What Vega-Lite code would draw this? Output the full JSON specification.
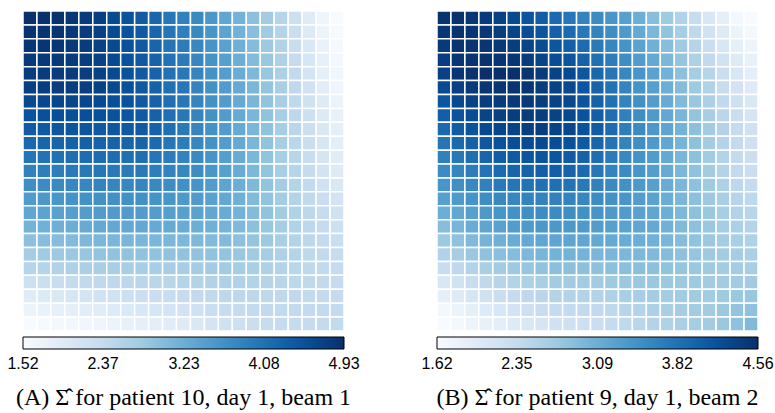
{
"$schema": "https://vega.github.io/schema/vega-lite/v6.json",
"background": "white",
"padding": {"left": 15, "top": 10, "right": 2, "bottom": 0},
"spacing": 76,
"datasets": {
"A": [
{"r":0,"c":0,"v":4.93},{"r":0,"c":1,"v":4.91},{"r":0,"c":2,"v":4.90},{"r":0,"c":3,"v":4.85},{"r":0,"c":4,"v":4.79},{"r":0,"c":5,"v":4.73},{"r":0,"c":6,"v":4.59},{"r":0,"c":7,"v":4.48},{"r":0,"c":8,"v":4.37},{"r":0,"c":9,"v":4.22},{"r":0,"c":10,"v":4.01},{"r":0,"c":11,"v":3.87},{"r":0,"c":12,"v":3.75},{"r":0,"c":13,"v":3.57},{"r":0,"c":14,"v":3.35},{"r":0,"c":15,"v":3.15},{"r":0,"c":16,"v":2.95},{"r":0,"c":17,"v":2.75},{"r":0,"c":18,"v":2.53},{"r":0,"c":19,"v":2.25},{"r":0,"c":20,"v":1.93},{"r":0,"c":21,"v":1.67},{"r":0,"c":22,"v":1.52},
{"r":1,"c":0,"v":4.89},{"r":1,"c":1,"v":4.88},{"r":1,"c":2,"v":4.87},{"r":1,"c":3,"v":4.83},{"r":1,"c":4,"v":4.78},{"r":1,"c":5,"v":4.72},{"r":1,"c":6,"v":4.59},{"r":1,"c":7,"v":4.49},{"r":1,"c":8,"v":4.38},{"r":1,"c":9,"v":4.23},{"r":1,"c":10,"v":4.03},{"r":1,"c":11,"v":3.90},{"r":1,"c":12,"v":3.77},{"r":1,"c":13,"v":3.59},{"r":1,"c":14,"v":3.38},{"r":1,"c":15,"v":3.18},{"r":1,"c":16,"v":2.98},{"r":1,"c":17,"v":2.78},{"r":1,"c":18,"v":2.56},{"r":1,"c":19,"v":2.29},{"r":1,"c":20,"v":1.98},{"r":1,"c":21,"v":1.72},{"r":1,"c":22,"v":1.55},
{"r":2,"c":0,"v":4.85},{"r":2,"c":1,"v":4.85},{"r":2,"c":2,"v":4.84},{"r":2,"c":3,"v":4.81},{"r":2,"c":4,"v":4.77},{"r":2,"c":5,"v":4.71},{"r":2,"c":6,"v":4.59},{"r":2,"c":7,"v":4.50},{"r":2,"c":8,"v":4.38},{"r":2,"c":9,"v":4.24},{"r":2,"c":10,"v":4.04},{"r":2,"c":11,"v":3.93},{"r":2,"c":12,"v":3.79},{"r":2,"c":13,"v":3.60},{"r":2,"c":14,"v":3.41},{"r":2,"c":15,"v":3.20},{"r":2,"c":16,"v":3.01},{"r":2,"c":17,"v":2.80},{"r":2,"c":18,"v":2.59},{"r":2,"c":19,"v":2.33},{"r":2,"c":20,"v":2.03},{"r":2,"c":21,"v":1.76},{"r":2,"c":22,"v":1.58},
{"r":3,"c":0,"v":4.81},{"r":3,"c":1,"v":4.81},{"r":3,"c":2,"v":4.82},{"r":3,"c":3,"v":4.79},{"r":3,"c":4,"v":4.75},{"r":3,"c":5,"v":4.71},{"r":3,"c":6,"v":4.59},{"r":3,"c":7,"v":4.50},{"r":3,"c":8,"v":4.39},{"r":3,"c":9,"v":4.26},{"r":3,"c":10,"v":4.06},{"r":3,"c":11,"v":3.95},{"r":3,"c":12,"v":3.80},{"r":3,"c":13,"v":3.62},{"r":3,"c":14,"v":3.44},{"r":3,"c":15,"v":3.23},{"r":3,"c":16,"v":3.03},{"r":3,"c":17,"v":2.83},{"r":3,"c":18,"v":2.62},{"r":3,"c":19,"v":2.36},{"r":3,"c":20,"v":2.07},{"r":3,"c":21,"v":1.81},{"r":3,"c":22,"v":1.61},
{"r":4,"c":0,"v":4.77},{"r":4,"c":1,"v":4.78},{"r":4,"c":2,"v":4.79},{"r":4,"c":3,"v":4.77},{"r":4,"c":4,"v":4.74},{"r":4,"c":5,"v":4.70},{"r":4,"c":6,"v":4.59},{"r":4,"c":7,"v":4.51},{"r":4,"c":8,"v":4.39},{"r":4,"c":9,"v":4.27},{"r":4,"c":10,"v":4.07},{"r":4,"c":11,"v":3.98},{"r":4,"c":12,"v":3.82},{"r":4,"c":13,"v":3.63},{"r":4,"c":14,"v":3.47},{"r":4,"c":15,"v":3.25},{"r":4,"c":16,"v":3.06},{"r":4,"c":17,"v":2.85},{"r":4,"c":18,"v":2.65},{"r":4,"c":19,"v":2.40},{"r":4,"c":20,"v":2.12},{"r":4,"c":21,"v":1.85},{"r":4,"c":22,"v":1.64},
{"r":5,"c":0,"v":4.73},{"r":5,"c":1,"v":4.75},{"r":5,"c":2,"v":4.76},{"r":5,"c":3,"v":4.75},{"r":5,"c":4,"v":4.73},{"r":5,"c":5,"v":4.69},{"r":5,"c":6,"v":4.59},{"r":5,"c":7,"v":4.52},{"r":5,"c":8,"v":4.40},{"r":5,"c":9,"v":4.28},{"r":5,"c":10,"v":4.09},{"r":5,"c":11,"v":4.01},{"r":5,"c":12,"v":3.84},{"r":5,"c":13,"v":3.65},{"r":5,"c":14,"v":3.50},{"r":5,"c":15,"v":3.28},{"r":5,"c":16,"v":3.09},{"r":5,"c":17,"v":2.88},{"r":5,"c":18,"v":2.68},{"r":5,"c":19,"v":2.44},{"r":5,"c":20,"v":2.17},{"r":5,"c":21,"v":1.90},{"r":5,"c":22,"v":1.67},
{"r":6,"c":0,"v":4.61},{"r":6,"c":1,"v":4.63},{"r":6,"c":2,"v":4.65},{"r":6,"c":3,"v":4.65},{"r":6,"c":4,"v":4.63},{"r":6,"c":5,"v":4.59},{"r":6,"c":6,"v":4.53},{"r":6,"c":7,"v":4.48},{"r":6,"c":8,"v":4.39},{"r":6,"c":9,"v":4.28},{"r":6,"c":10,"v":4.10},{"r":6,"c":11,"v":4.00},{"r":6,"c":12,"v":3.83},{"r":6,"c":13,"v":3.65},{"r":6,"c":14,"v":3.50},{"r":6,"c":15,"v":3.28},{"r":6,"c":16,"v":3.10},{"r":6,"c":17,"v":2.89},{"r":6,"c":18,"v":2.69},{"r":6,"c":19,"v":2.46},{"r":6,"c":20,"v":2.20},{"r":6,"c":21,"v":1.94},{"r":6,"c":22,"v":1.72},
{"r":7,"c":0,"v":4.49},{"r":7,"c":1,"v":4.52},{"r":7,"c":2,"v":4.53},{"r":7,"c":3,"v":4.54},{"r":7,"c":4,"v":4.54},{"r":7,"c":5,"v":4.50},{"r":7,"c":6,"v":4.48},{"r":7,"c":7,"v":4.44},{"r":7,"c":8,"v":4.39},{"r":7,"c":9,"v":4.28},{"r":7,"c":10,"v":4.10},{"r":7,"c":11,"v":3.99},{"r":7,"c":12,"v":3.83},{"r":7,"c":13,"v":3.65},{"r":7,"c":14,"v":3.50},{"r":7,"c":15,"v":3.29},{"r":7,"c":16,"v":3.10},{"r":7,"c":17,"v":2.91},{"r":7,"c":18,"v":2.70},{"r":7,"c":19,"v":2.47},{"r":7,"c":20,"v":2.24},{"r":7,"c":21,"v":1.99},{"r":7,"c":22,"v":1.78},
{"r":8,"c":0,"v":4.37},{"r":8,"c":1,"v":4.40},{"r":8,"c":2,"v":4.42},{"r":8,"c":3,"v":4.44},{"r":8,"c":4,"v":4.44},{"r":8,"c":5,"v":4.40},{"r":8,"c":6,"v":4.42},{"r":8,"c":7,"v":4.40},{"r":8,"c":8,"v":4.38},{"r":8,"c":9,"v":4.28},{"r":8,"c":10,"v":4.11},{"r":8,"c":11,"v":3.98},{"r":8,"c":12,"v":3.82},{"r":8,"c":13,"v":3.65},{"r":8,"c":14,"v":3.50},{"r":8,"c":15,"v":3.29},{"r":8,"c":16,"v":3.11},{"r":8,"c":17,"v":2.92},{"r":8,"c":18,"v":2.71},{"r":8,"c":19,"v":2.49},{"r":8,"c":20,"v":2.27},{"r":8,"c":21,"v":2.03},{"r":8,"c":22,"v":1.83},
{"r":9,"c":0,"v":4.20},{"r":9,"c":1,"v":4.24},{"r":9,"c":2,"v":4.25},{"r":9,"c":3,"v":4.28},{"r":9,"c":4,"v":4.29},{"r":9,"c":5,"v":4.27},{"r":9,"c":6,"v":4.27},{"r":9,"c":7,"v":4.25},{"r":9,"c":8,"v":4.25},{"r":9,"c":9,"v":4.16},{"r":9,"c":10,"v":4.02},{"r":9,"c":11,"v":3.92},{"r":9,"c":12,"v":3.79},{"r":9,"c":13,"v":3.63},{"r":9,"c":14,"v":3.48},{"r":9,"c":15,"v":3.28},{"r":9,"c":16,"v":3.10},{"r":9,"c":17,"v":2.91},{"r":9,"c":18,"v":2.71},{"r":9,"c":19,"v":2.50},{"r":9,"c":20,"v":2.30},{"r":9,"c":21,"v":2.07},{"r":9,"c":22,"v":1.87},
{"r":10,"c":0,"v":4.04},{"r":10,"c":1,"v":4.07},{"r":10,"c":2,"v":4.09},{"r":10,"c":3,"v":4.12},{"r":10,"c":4,"v":4.13},{"r":10,"c":5,"v":4.14},{"r":10,"c":6,"v":4.13},{"r":10,"c":7,"v":4.11},{"r":10,"c":8,"v":4.11},{"r":10,"c":9,"v":4.03},{"r":10,"c":10,"v":3.93},{"r":10,"c":11,"v":3.85},{"r":10,"c":12,"v":3.75},{"r":10,"c":13,"v":3.60},{"r":10,"c":14,"v":3.45},{"r":10,"c":15,"v":3.27},{"r":10,"c":16,"v":3.09},{"r":10,"c":17,"v":2.89},{"r":10,"c":18,"v":2.71},{"r":10,"c":19,"v":2.52},{"r":10,"c":20,"v":2.33},{"r":10,"c":21,"v":2.11},{"r":10,"c":22,"v":1.91},
{"r":11,"c":0,"v":3.87},{"r":11,"c":1,"v":3.91},{"r":11,"c":2,"v":3.92},{"r":11,"c":3,"v":3.96},{"r":11,"c":4,"v":3.98},{"r":11,"c":5,"v":4.01},{"r":11,"c":6,"v":3.98},{"r":11,"c":7,"v":3.96},{"r":11,"c":8,"v":3.98},{"r":11,"c":9,"v":3.91},{"r":11,"c":10,"v":3.84},{"r":11,"c":11,"v":3.79},{"r":11,"c":12,"v":3.72},{"r":11,"c":13,"v":3.58},{"r":11,"c":14,"v":3.43},{"r":11,"c":15,"v":3.26},{"r":11,"c":16,"v":3.08},{"r":11,"c":17,"v":2.88},{"r":11,"c":18,"v":2.71},{"r":11,"c":19,"v":2.53},{"r":11,"c":20,"v":2.36},{"r":11,"c":21,"v":2.15},{"r":11,"c":22,"v":1.95},
{"r":12,"c":0,"v":3.70},{"r":12,"c":1,"v":3.73},{"r":12,"c":2,"v":3.75},{"r":12,"c":3,"v":3.79},{"r":12,"c":4,"v":3.81},{"r":12,"c":5,"v":3.84},{"r":12,"c":6,"v":3.82},{"r":12,"c":7,"v":3.81},{"r":12,"c":8,"v":3.82},{"r":12,"c":9,"v":3.77},{"r":12,"c":10,"v":3.71},{"r":12,"c":11,"v":3.67},{"r":12,"c":12,"v":3.61},{"r":12,"c":13,"v":3.50},{"r":12,"c":14,"v":3.37},{"r":12,"c":15,"v":3.22},{"r":12,"c":16,"v":3.06},{"r":12,"c":17,"v":2.89},{"r":12,"c":18,"v":2.73},{"r":12,"c":19,"v":2.56},{"r":12,"c":20,"v":2.40},{"r":12,"c":21,"v":2.21},{"r":12,"c":22,"v":2.03},
{"r":13,"c":0,"v":3.52},{"r":13,"c":1,"v":3.56},{"r":13,"c":2,"v":3.58},{"r":13,"c":3,"v":3.62},{"r":13,"c":4,"v":3.65},{"r":13,"c":5,"v":3.67},{"r":13,"c":6,"v":3.67},{"r":13,"c":7,"v":3.66},{"r":13,"c":8,"v":3.66},{"r":13,"c":9,"v":3.62},{"r":13,"c":10,"v":3.59},{"r":13,"c":11,"v":3.55},{"r":13,"c":12,"v":3.51},{"r":13,"c":13,"v":3.41},{"r":13,"c":14,"v":3.32},{"r":13,"c":15,"v":3.19},{"r":13,"c":16,"v":3.04},{"r":13,"c":17,"v":2.89},{"r":13,"c":18,"v":2.74},{"r":13,"c":19,"v":2.58},{"r":13,"c":20,"v":2.43},{"r":13,"c":21,"v":2.28},{"r":13,"c":22,"v":2.12},
{"r":14,"c":0,"v":3.35},{"r":14,"c":1,"v":3.38},{"r":14,"c":2,"v":3.41},{"r":14,"c":3,"v":3.45},{"r":14,"c":4,"v":3.48},{"r":14,"c":5,"v":3.50},{"r":14,"c":6,"v":3.51},{"r":14,"c":7,"v":3.51},{"r":14,"c":8,"v":3.50},{"r":14,"c":9,"v":3.48},{"r":14,"c":10,"v":3.46},{"r":14,"c":11,"v":3.43},{"r":14,"c":12,"v":3.40},{"r":14,"c":13,"v":3.33},{"r":14,"c":14,"v":3.26},{"r":14,"c":15,"v":3.15},{"r":14,"c":16,"v":3.02},{"r":14,"c":17,"v":2.90},{"r":14,"c":18,"v":2.76},{"r":14,"c":19,"v":2.61},{"r":14,"c":20,"v":2.47},{"r":14,"c":21,"v":2.34},{"r":14,"c":22,"v":2.20},
{"r":15,"c":0,"v":3.15},{"r":15,"c":1,"v":3.18},{"r":15,"c":2,"v":3.21},{"r":15,"c":3,"v":3.24},{"r":15,"c":4,"v":3.27},{"r":15,"c":5,"v":3.30},{"r":15,"c":6,"v":3.31},{"r":15,"c":7,"v":3.31},{"r":15,"c":8,"v":3.31},{"r":15,"c":9,"v":3.29},{"r":15,"c":10,"v":3.28},{"r":15,"c":11,"v":3.26},{"r":15,"c":12,"v":3.23},{"r":15,"c":13,"v":3.19},{"r":15,"c":14,"v":3.14},{"r":15,"c":15,"v":3.05},{"r":15,"c":16,"v":2.95},{"r":15,"c":17,"v":2.85},{"r":15,"c":18,"v":2.72},{"r":15,"c":19,"v":2.60},{"r":15,"c":20,"v":2.47},{"r":15,"c":21,"v":2.37},{"r":15,"c":22,"v":2.25},
{"r":16,"c":0,"v":2.95},{"r":16,"c":1,"v":2.98},{"r":16,"c":2,"v":3.00},{"r":16,"c":3,"v":3.03},{"r":16,"c":4,"v":3.06},{"r":16,"c":5,"v":3.09},{"r":16,"c":6,"v":3.10},{"r":16,"c":7,"v":3.10},{"r":16,"c":8,"v":3.11},{"r":16,"c":9,"v":3.10},{"r":16,"c":10,"v":3.09},{"r":16,"c":11,"v":3.08},{"r":16,"c":12,"v":3.06},{"r":16,"c":13,"v":3.04},{"r":16,"c":14,"v":3.02},{"r":16,"c":15,"v":2.95},{"r":16,"c":16,"v":2.88},{"r":16,"c":17,"v":2.80},{"r":16,"c":18,"v":2.68},{"r":16,"c":19,"v":2.58},{"r":16,"c":20,"v":2.47},{"r":16,"c":21,"v":2.39},{"r":16,"c":22,"v":2.30},
{"r":17,"c":0,"v":2.74},{"r":17,"c":1,"v":2.77},{"r":17,"c":2,"v":2.80},{"r":17,"c":3,"v":2.83},{"r":17,"c":4,"v":2.86},{"r":17,"c":5,"v":2.89},{"r":17,"c":6,"v":2.90},{"r":17,"c":7,"v":2.90},{"r":17,"c":8,"v":2.91},{"r":17,"c":9,"v":2.91},{"r":17,"c":10,"v":2.90},{"r":17,"c":11,"v":2.90},{"r":17,"c":12,"v":2.90},{"r":17,"c":13,"v":2.90},{"r":17,"c":14,"v":2.89},{"r":17,"c":15,"v":2.84},{"r":17,"c":16,"v":2.78},{"r":17,"c":17,"v":2.72},{"r":17,"c":18,"v":2.63},{"r":17,"c":19,"v":2.55},{"r":17,"c":20,"v":2.46},{"r":17,"c":21,"v":2.40},{"r":17,"c":22,"v":2.34},
{"r":18,"c":0,"v":2.53},{"r":18,"c":1,"v":2.56},{"r":18,"c":2,"v":2.59},{"r":18,"c":3,"v":2.63},{"r":18,"c":4,"v":2.66},{"r":18,"c":5,"v":2.68},{"r":18,"c":6,"v":2.69},{"r":18,"c":7,"v":2.70},{"r":18,"c":8,"v":2.71},{"r":18,"c":9,"v":2.71},{"r":18,"c":10,"v":2.71},{"r":18,"c":11,"v":2.71},{"r":18,"c":12,"v":2.73},{"r":18,"c":13,"v":2.75},{"r":18,"c":14,"v":2.76},{"r":18,"c":15,"v":2.72},{"r":18,"c":16,"v":2.68},{"r":18,"c":17,"v":2.63},{"r":18,"c":18,"v":2.58},{"r":18,"c":19,"v":2.51},{"r":18,"c":20,"v":2.45},{"r":18,"c":21,"v":2.41},{"r":18,"c":22,"v":2.37},
{"r":19,"c":0,"v":2.23},{"r":19,"c":1,"v":2.27},{"r":19,"c":2,"v":2.31},{"r":19,"c":3,"v":2.36},{"r":19,"c":4,"v":2.40},{"r":19,"c":5,"v":2.43},{"r":19,"c":6,"v":2.45},{"r":19,"c":7,"v":2.47},{"r":19,"c":8,"v":2.49},{"r":19,"c":9,"v":2.51},{"r":19,"c":10,"v":2.52},{"r":19,"c":11,"v":2.54},{"r":19,"c":12,"v":2.57},{"r":19,"c":13,"v":2.59},{"r":19,"c":14,"v":2.62},{"r":19,"c":15,"v":2.60},{"r":19,"c":16,"v":2.58},{"r":19,"c":17,"v":2.55},{"r":19,"c":18,"v":2.52},{"r":19,"c":19,"v":2.47},{"r":19,"c":20,"v":2.43},{"r":19,"c":21,"v":2.40},{"r":19,"c":22,"v":2.37},
{"r":20,"c":0,"v":1.93},{"r":20,"c":1,"v":1.98},{"r":20,"c":2,"v":2.03},{"r":20,"c":3,"v":2.08},{"r":20,"c":4,"v":2.13},{"r":20,"c":5,"v":2.17},{"r":20,"c":6,"v":2.20},{"r":20,"c":7,"v":2.24},{"r":20,"c":8,"v":2.27},{"r":20,"c":9,"v":2.30},{"r":20,"c":10,"v":2.33},{"r":20,"c":11,"v":2.36},{"r":20,"c":12,"v":2.40},{"r":20,"c":13,"v":2.43},{"r":20,"c":14,"v":2.47},{"r":20,"c":15,"v":2.47},{"r":20,"c":16,"v":2.47},{"r":20,"c":17,"v":2.46},{"r":20,"c":18,"v":2.45},{"r":20,"c":19,"v":2.42},{"r":20,"c":20,"v":2.41},{"r":20,"c":21,"v":2.39},{"r":20,"c":22,"v":2.37},
{"r":21,"c":0,"v":1.73},{"r":21,"c":1,"v":1.77},{"r":21,"c":2,"v":1.81},{"r":21,"c":3,"v":1.85},{"r":21,"c":4,"v":1.89},{"r":21,"c":5,"v":1.92},{"r":21,"c":6,"v":1.96},{"r":21,"c":7,"v":2.01},{"r":21,"c":8,"v":2.05},{"r":21,"c":9,"v":2.08},{"r":21,"c":10,"v":2.12},{"r":21,"c":11,"v":2.16},{"r":21,"c":12,"v":2.22},{"r":21,"c":13,"v":2.28},{"r":21,"c":14,"v":2.34},{"r":21,"c":15,"v":2.36},{"r":21,"c":16,"v":2.39},{"r":21,"c":17,"v":2.40},{"r":21,"c":18,"v":2.41},{"r":21,"c":19,"v":2.40},{"r":21,"c":20,"v":2.39},{"r":21,"c":21,"v":2.39},{"r":21,"c":22,"v":2.39},
{"r":22,"c":0,"v":1.52},{"r":22,"c":1,"v":1.55},{"r":22,"c":2,"v":1.59},{"r":22,"c":3,"v":1.62},{"r":22,"c":4,"v":1.65},{"r":22,"c":5,"v":1.67},{"r":22,"c":6,"v":1.72},{"r":22,"c":7,"v":1.78},{"r":22,"c":8,"v":1.83},{"r":22,"c":9,"v":1.86},{"r":22,"c":10,"v":1.91},{"r":22,"c":11,"v":1.95},{"r":22,"c":12,"v":2.03},{"r":22,"c":13,"v":2.12},{"r":22,"c":14,"v":2.20},{"r":22,"c":15,"v":2.25},{"r":22,"c":16,"v":2.30},{"r":22,"c":17,"v":2.34},{"r":22,"c":18,"v":2.37},{"r":22,"c":19,"v":2.37},{"r":22,"c":20,"v":2.37},{"r":22,"c":21,"v":2.39},{"r":22,"c":22,"v":2.41}
],
"B": [
{"r":0,"c":0,"v":4.53},{"r":0,"c":1,"v":4.53},{"r":0,"c":2,"v":4.49},{"r":0,"c":3,"v":4.44},{"r":0,"c":4,"v":4.37},{"r":0,"c":5,"v":4.27},{"r":0,"c":6,"v":4.15},{"r":0,"c":7,"v":4.05},{"r":0,"c":8,"v":3.91},{"r":0,"c":9,"v":3.77},{"r":0,"c":10,"v":3.63},{"r":0,"c":11,"v":3.52},{"r":0,"c":12,"v":3.40},{"r":0,"c":13,"v":3.27},{"r":0,"c":14,"v":3.08},{"r":0,"c":15,"v":2.88},{"r":0,"c":16,"v":2.71},{"r":0,"c":17,"v":2.55},{"r":0,"c":18,"v":2.33},{"r":0,"c":19,"v":2.09},{"r":0,"c":20,"v":1.89},{"r":0,"c":21,"v":1.69},{"r":0,"c":22,"v":1.62},
{"r":1,"c":0,"v":4.49},{"r":1,"c":1,"v":4.52},{"r":1,"c":2,"v":4.50},{"r":1,"c":3,"v":4.47},{"r":1,"c":4,"v":4.42},{"r":1,"c":5,"v":4.34},{"r":1,"c":6,"v":4.24},{"r":1,"c":7,"v":4.15},{"r":1,"c":8,"v":4.02},{"r":1,"c":9,"v":3.90},{"r":1,"c":10,"v":3.75},{"r":1,"c":11,"v":3.63},{"r":1,"c":12,"v":3.50},{"r":1,"c":13,"v":3.35},{"r":1,"c":14,"v":3.16},{"r":1,"c":15,"v":2.97},{"r":1,"c":16,"v":2.80},{"r":1,"c":17,"v":2.63},{"r":1,"c":18,"v":2.41},{"r":1,"c":19,"v":2.19},{"r":1,"c":20,"v":1.99},{"r":1,"c":21,"v":1.79},{"r":1,"c":22,"v":1.69},
{"r":2,"c":0,"v":4.45},{"r":2,"c":1,"v":4.51},{"r":2,"c":2,"v":4.51},{"r":2,"c":3,"v":4.50},{"r":2,"c":4,"v":4.47},{"r":2,"c":5,"v":4.42},{"r":2,"c":6,"v":4.34},{"r":2,"c":7,"v":4.25},{"r":2,"c":8,"v":4.13},{"r":2,"c":9,"v":4.02},{"r":2,"c":10,"v":3.88},{"r":2,"c":11,"v":3.73},{"r":2,"c":12,"v":3.59},{"r":2,"c":13,"v":3.43},{"r":2,"c":14,"v":3.24},{"r":2,"c":15,"v":3.06},{"r":2,"c":16,"v":2.88},{"r":2,"c":17,"v":2.70},{"r":2,"c":18,"v":2.50},{"r":2,"c":19,"v":2.29},{"r":2,"c":20,"v":2.09},{"r":2,"c":21,"v":1.89},{"r":2,"c":22,"v":1.77},
{"r":3,"c":0,"v":4.41},{"r":3,"c":1,"v":4.50},{"r":3,"c":2,"v":4.52},{"r":3,"c":3,"v":4.53},{"r":3,"c":4,"v":4.51},{"r":3,"c":5,"v":4.49},{"r":3,"c":6,"v":4.43},{"r":3,"c":7,"v":4.34},{"r":3,"c":8,"v":4.24},{"r":3,"c":9,"v":4.15},{"r":3,"c":10,"v":4.00},{"r":3,"c":11,"v":3.84},{"r":3,"c":12,"v":3.69},{"r":3,"c":13,"v":3.50},{"r":3,"c":14,"v":3.32},{"r":3,"c":15,"v":3.15},{"r":3,"c":16,"v":2.97},{"r":3,"c":17,"v":2.78},{"r":3,"c":18,"v":2.58},{"r":3,"c":19,"v":2.39},{"r":3,"c":20,"v":2.18},{"r":3,"c":21,"v":1.99},{"r":3,"c":22,"v":1.84},
{"r":4,"c":0,"v":4.37},{"r":4,"c":1,"v":4.49},{"r":4,"c":2,"v":4.53},{"r":4,"c":3,"v":4.56},{"r":4,"c":4,"v":4.56},{"r":4,"c":5,"v":4.56},{"r":4,"c":6,"v":4.52},{"r":4,"c":7,"v":4.44},{"r":4,"c":8,"v":4.35},{"r":4,"c":9,"v":4.27},{"r":4,"c":10,"v":4.12},{"r":4,"c":11,"v":3.94},{"r":4,"c":12,"v":3.78},{"r":4,"c":13,"v":3.58},{"r":4,"c":14,"v":3.40},{"r":4,"c":15,"v":3.24},{"r":4,"c":16,"v":3.05},{"r":4,"c":17,"v":2.85},{"r":4,"c":18,"v":2.66},{"r":4,"c":19,"v":2.49},{"r":4,"c":20,"v":2.28},{"r":4,"c":21,"v":2.09},{"r":4,"c":22,"v":1.91},
{"r":5,"c":0,"v":4.26},{"r":5,"c":1,"v":4.38},{"r":5,"c":2,"v":4.44},{"r":5,"c":3,"v":4.49},{"r":5,"c":4,"v":4.50},{"r":5,"c":5,"v":4.51},{"r":5,"c":6,"v":4.49},{"r":5,"c":7,"v":4.43},{"r":5,"c":8,"v":4.35},{"r":5,"c":9,"v":4.28},{"r":5,"c":10,"v":4.14},{"r":5,"c":11,"v":3.97},{"r":5,"c":12,"v":3.81},{"r":5,"c":13,"v":3.61},{"r":5,"c":14,"v":3.43},{"r":5,"c":15,"v":3.28},{"r":5,"c":16,"v":3.09},{"r":5,"c":17,"v":2.90},{"r":5,"c":18,"v":2.71},{"r":5,"c":19,"v":2.54},{"r":5,"c":20,"v":2.34},{"r":5,"c":21,"v":2.16},{"r":5,"c":22,"v":1.99},
{"r":6,"c":0,"v":4.14},{"r":6,"c":1,"v":4.28},{"r":6,"c":2,"v":4.35},{"r":6,"c":3,"v":4.42},{"r":6,"c":4,"v":4.44},{"r":6,"c":5,"v":4.46},{"r":6,"c":6,"v":4.46},{"r":6,"c":7,"v":4.42},{"r":6,"c":8,"v":4.35},{"r":6,"c":9,"v":4.29},{"r":6,"c":10,"v":4.15},{"r":6,"c":11,"v":4.00},{"r":6,"c":12,"v":3.83},{"r":6,"c":13,"v":3.63},{"r":6,"c":14,"v":3.47},{"r":6,"c":15,"v":3.31},{"r":6,"c":16,"v":3.13},{"r":6,"c":17,"v":2.94},{"r":6,"c":18,"v":2.76},{"r":6,"c":19,"v":2.59},{"r":6,"c":20,"v":2.40},{"r":6,"c":21,"v":2.23},{"r":6,"c":22,"v":2.06},
{"r":7,"c":0,"v":4.03},{"r":7,"c":1,"v":4.17},{"r":7,"c":2,"v":4.25},{"r":7,"c":3,"v":4.34},{"r":7,"c":4,"v":4.38},{"r":7,"c":5,"v":4.40},{"r":7,"c":6,"v":4.43},{"r":7,"c":7,"v":4.41},{"r":7,"c":8,"v":4.35},{"r":7,"c":9,"v":4.29},{"r":7,"c":10,"v":4.17},{"r":7,"c":11,"v":4.03},{"r":7,"c":12,"v":3.86},{"r":7,"c":13,"v":3.66},{"r":7,"c":14,"v":3.50},{"r":7,"c":15,"v":3.35},{"r":7,"c":16,"v":3.17},{"r":7,"c":17,"v":2.99},{"r":7,"c":18,"v":2.80},{"r":7,"c":19,"v":2.63},{"r":7,"c":20,"v":2.46},{"r":7,"c":21,"v":2.29},{"r":7,"c":22,"v":2.13},
{"r":8,"c":0,"v":3.91},{"r":8,"c":1,"v":4.06},{"r":8,"c":2,"v":4.16},{"r":8,"c":3,"v":4.27},{"r":8,"c":4,"v":4.32},{"r":8,"c":5,"v":4.35},{"r":8,"c":6,"v":4.40},{"r":8,"c":7,"v":4.40},{"r":8,"c":8,"v":4.35},{"r":8,"c":9,"v":4.30},{"r":8,"c":10,"v":4.18},{"r":8,"c":11,"v":4.06},{"r":8,"c":12,"v":3.88},{"r":8,"c":13,"v":3.68},{"r":8,"c":14,"v":3.53},{"r":8,"c":15,"v":3.38},{"r":8,"c":16,"v":3.21},{"r":8,"c":17,"v":3.03},{"r":8,"c":18,"v":2.85},{"r":8,"c":19,"v":2.68},{"r":8,"c":20,"v":2.52},{"r":8,"c":21,"v":2.36},{"r":8,"c":22,"v":2.21},
{"r":9,"c":0,"v":3.78},{"r":9,"c":1,"v":3.91},{"r":9,"c":2,"v":4.00},{"r":9,"c":3,"v":4.11},{"r":9,"c":4,"v":4.18},{"r":9,"c":5,"v":4.22},{"r":9,"c":6,"v":4.27},{"r":9,"c":7,"v":4.27},{"r":9,"c":8,"v":4.24},{"r":9,"c":9,"v":4.19},{"r":9,"c":10,"v":4.09},{"r":9,"c":11,"v":3.96},{"r":9,"c":12,"v":3.80},{"r":9,"c":13,"v":3.63},{"r":9,"c":14,"v":3.49},{"r":9,"c":15,"v":3.35},{"r":9,"c":16,"v":3.18},{"r":9,"c":17,"v":3.01},{"r":9,"c":18,"v":2.84},{"r":9,"c":19,"v":2.68},{"r":9,"c":20,"v":2.52},{"r":9,"c":21,"v":2.37},{"r":9,"c":22,"v":2.23},
{"r":10,"c":0,"v":3.65},{"r":10,"c":1,"v":3.75},{"r":10,"c":2,"v":3.85},{"r":10,"c":3,"v":3.96},{"r":10,"c":4,"v":4.04},{"r":10,"c":5,"v":4.09},{"r":10,"c":6,"v":4.13},{"r":10,"c":7,"v":4.15},{"r":10,"c":8,"v":4.14},{"r":10,"c":9,"v":4.08},{"r":10,"c":10,"v":3.99},{"r":10,"c":11,"v":3.87},{"r":10,"c":12,"v":3.71},{"r":10,"c":13,"v":3.57},{"r":10,"c":14,"v":3.45},{"r":10,"c":15,"v":3.33},{"r":10,"c":16,"v":3.16},{"r":10,"c":17,"v":2.99},{"r":10,"c":18,"v":2.84},{"r":10,"c":19,"v":2.68},{"r":10,"c":20,"v":2.53},{"r":10,"c":21,"v":2.37},{"r":10,"c":22,"v":2.26},
{"r":11,"c":0,"v":3.52},{"r":11,"c":1,"v":3.60},{"r":11,"c":2,"v":3.69},{"r":11,"c":3,"v":3.80},{"r":11,"c":4,"v":3.90},{"r":11,"c":5,"v":3.96},{"r":11,"c":6,"v":4.00},{"r":11,"c":7,"v":4.02},{"r":11,"c":8,"v":4.03},{"r":11,"c":9,"v":3.97},{"r":11,"c":10,"v":3.90},{"r":11,"c":11,"v":3.77},{"r":11,"c":12,"v":3.63},{"r":11,"c":13,"v":3.52},{"r":11,"c":14,"v":3.41},{"r":11,"c":15,"v":3.30},{"r":11,"c":16,"v":3.13},{"r":11,"c":17,"v":2.97},{"r":11,"c":18,"v":2.83},{"r":11,"c":19,"v":2.68},{"r":11,"c":20,"v":2.53},{"r":11,"c":21,"v":2.38},{"r":11,"c":22,"v":2.28},
{"r":12,"c":0,"v":3.40},{"r":12,"c":1,"v":3.48},{"r":12,"c":2,"v":3.56},{"r":12,"c":3,"v":3.65},{"r":12,"c":4,"v":3.73},{"r":12,"c":5,"v":3.78},{"r":12,"c":6,"v":3.81},{"r":12,"c":7,"v":3.83},{"r":12,"c":8,"v":3.84},{"r":12,"c":9,"v":3.80},{"r":12,"c":10,"v":3.74},{"r":12,"c":11,"v":3.65},{"r":12,"c":12,"v":3.55},{"r":12,"c":13,"v":3.46},{"r":12,"c":14,"v":3.36},{"r":12,"c":15,"v":3.27},{"r":12,"c":16,"v":3.12},{"r":12,"c":17,"v":2.97},{"r":12,"c":18,"v":2.84},{"r":12,"c":19,"v":2.71},{"r":12,"c":20,"v":2.58},{"r":12,"c":21,"v":2.44},{"r":12,"c":22,"v":2.36},
{"r":13,"c":0,"v":3.27},{"r":13,"c":1,"v":3.35},{"r":13,"c":2,"v":3.43},{"r":13,"c":3,"v":3.50},{"r":13,"c":4,"v":3.56},{"r":13,"c":5,"v":3.59},{"r":13,"c":6,"v":3.62},{"r":13,"c":7,"v":3.63},{"r":13,"c":8,"v":3.65},{"r":13,"c":9,"v":3.62},{"r":13,"c":10,"v":3.58},{"r":13,"c":11,"v":3.52},{"r":13,"c":12,"v":3.46},{"r":13,"c":13,"v":3.40},{"r":13,"c":14,"v":3.31},{"r":13,"c":15,"v":3.24},{"r":13,"c":16,"v":3.10},{"r":13,"c":17,"v":2.97},{"r":13,"c":18,"v":2.85},{"r":13,"c":19,"v":2.74},{"r":13,"c":20,"v":2.62},{"r":13,"c":21,"v":2.49},{"r":13,"c":22,"v":2.43},
{"r":14,"c":0,"v":3.08},{"r":14,"c":1,"v":3.18},{"r":14,"c":2,"v":3.28},{"r":14,"c":3,"v":3.36},{"r":14,"c":4,"v":3.41},{"r":14,"c":5,"v":3.45},{"r":14,"c":6,"v":3.49},{"r":14,"c":7,"v":3.51},{"r":14,"c":8,"v":3.52},{"r":14,"c":9,"v":3.50},{"r":14,"c":10,"v":3.47},{"r":14,"c":11,"v":3.42},{"r":14,"c":12,"v":3.37},{"r":14,"c":13,"v":3.32},{"r":14,"c":14,"v":3.25},{"r":14,"c":15,"v":3.20},{"r":14,"c":16,"v":3.08},{"r":14,"c":17,"v":2.96},{"r":14,"c":18,"v":2.85},{"r":14,"c":19,"v":2.75},{"r":14,"c":20,"v":2.64},{"r":14,"c":21,"v":2.54},{"r":14,"c":22,"v":2.48},
{"r":15,"c":0,"v":2.88},{"r":15,"c":1,"v":3.00},{"r":15,"c":2,"v":3.12},{"r":15,"c":3,"v":3.21},{"r":15,"c":4,"v":3.25},{"r":15,"c":5,"v":3.31},{"r":15,"c":6,"v":3.35},{"r":15,"c":7,"v":3.38},{"r":15,"c":8,"v":3.38},{"r":15,"c":9,"v":3.38},{"r":15,"c":10,"v":3.35},{"r":15,"c":11,"v":3.31},{"r":15,"c":12,"v":3.28},{"r":15,"c":13,"v":3.24},{"r":15,"c":14,"v":3.19},{"r":15,"c":15,"v":3.15},{"r":15,"c":16,"v":3.05},{"r":15,"c":17,"v":2.94},{"r":15,"c":18,"v":2.85},{"r":15,"c":19,"v":2.75},{"r":15,"c":20,"v":2.66},{"r":15,"c":21,"v":2.59},{"r":15,"c":22,"v":2.52},
{"r":16,"c":0,"v":2.72},{"r":16,"c":1,"v":2.83},{"r":16,"c":2,"v":2.94},{"r":16,"c":3,"v":3.02},{"r":16,"c":4,"v":3.06},{"r":16,"c":5,"v":3.11},{"r":16,"c":6,"v":3.16},{"r":16,"c":7,"v":3.19},{"r":16,"c":8,"v":3.21},{"r":16,"c":9,"v":3.21},{"r":16,"c":10,"v":3.19},{"r":16,"c":11,"v":3.15},{"r":16,"c":12,"v":3.14},{"r":16,"c":13,"v":3.11},{"r":16,"c":14,"v":3.08},{"r":16,"c":15,"v":3.05},{"r":16,"c":16,"v":2.98},{"r":16,"c":17,"v":2.89},{"r":16,"c":18,"v":2.82},{"r":16,"c":19,"v":2.74},{"r":16,"c":20,"v":2.67},{"r":16,"c":21,"v":2.62},{"r":16,"c":22,"v":2.56},
{"r":17,"c":0,"v":2.55},{"r":17,"c":1,"v":2.65},{"r":17,"c":2,"v":2.75},{"r":17,"c":3,"v":2.83},{"r":17,"c":4,"v":2.87},{"r":17,"c":5,"v":2.91},{"r":17,"c":6,"v":2.96},{"r":17,"c":7,"v":3.00},{"r":17,"c":8,"v":3.03},{"r":17,"c":9,"v":3.03},{"r":17,"c":10,"v":3.02},{"r":17,"c":11,"v":2.99},{"r":17,"c":12,"v":2.99},{"r":17,"c":13,"v":2.97},{"r":17,"c":14,"v":2.96},{"r":17,"c":15,"v":2.94},{"r":17,"c":16,"v":2.90},{"r":17,"c":17,"v":2.84},{"r":17,"c":18,"v":2.78},{"r":17,"c":19,"v":2.73},{"r":17,"c":20,"v":2.68},{"r":17,"c":21,"v":2.65},{"r":17,"c":22,"v":2.60},
{"r":18,"c":0,"v":2.32},{"r":18,"c":1,"v":2.42},{"r":18,"c":2,"v":2.53},{"r":18,"c":3,"v":2.62},{"r":18,"c":4,"v":2.68},{"r":18,"c":5,"v":2.72},{"r":18,"c":6,"v":2.77},{"r":18,"c":7,"v":2.81},{"r":18,"c":8,"v":2.86},{"r":18,"c":9,"v":2.86},{"r":18,"c":10,"v":2.85},{"r":18,"c":11,"v":2.84},{"r":18,"c":12,"v":2.85},{"r":18,"c":13,"v":2.86},{"r":18,"c":14,"v":2.86},{"r":18,"c":15,"v":2.85},{"r":18,"c":16,"v":2.82},{"r":18,"c":17,"v":2.79},{"r":18,"c":18,"v":2.75},{"r":18,"c":19,"v":2.71},{"r":18,"c":20,"v":2.68},{"r":18,"c":21,"v":2.67},{"r":18,"c":22,"v":2.64},
{"r":19,"c":0,"v":2.09},{"r":19,"c":1,"v":2.19},{"r":19,"c":2,"v":2.30},{"r":19,"c":3,"v":2.40},{"r":19,"c":4,"v":2.49},{"r":19,"c":5,"v":2.53},{"r":19,"c":6,"v":2.58},{"r":19,"c":7,"v":2.62},{"r":19,"c":8,"v":2.68},{"r":19,"c":9,"v":2.68},{"r":19,"c":10,"v":2.68},{"r":19,"c":11,"v":2.68},{"r":19,"c":12,"v":2.71},{"r":19,"c":13,"v":2.74},{"r":19,"c":14,"v":2.75},{"r":19,"c":15,"v":2.75},{"r":19,"c":16,"v":2.74},{"r":19,"c":17,"v":2.73},{"r":19,"c":18,"v":2.71},{"r":19,"c":19,"v":2.68},{"r":19,"c":20,"v":2.68},{"r":19,"c":21,"v":2.69},{"r":19,"c":22,"v":2.68},
{"r":20,"c":0,"v":1.89},{"r":20,"c":1,"v":2.00},{"r":20,"c":2,"v":2.10},{"r":20,"c":3,"v":2.20},{"r":20,"c":4,"v":2.29},{"r":20,"c":5,"v":2.35},{"r":20,"c":6,"v":2.41},{"r":20,"c":7,"v":2.46},{"r":20,"c":8,"v":2.52},{"r":20,"c":9,"v":2.53},{"r":20,"c":10,"v":2.53},{"r":20,"c":11,"v":2.53},{"r":20,"c":12,"v":2.57},{"r":20,"c":13,"v":2.62},{"r":20,"c":14,"v":2.64},{"r":20,"c":15,"v":2.67},{"r":20,"c":16,"v":2.68},{"r":20,"c":17,"v":2.69},{"r":20,"c":18,"v":2.70},{"r":20,"c":19,"v":2.69},{"r":20,"c":20,"v":2.71},{"r":20,"c":21,"v":2.75},{"r":20,"c":22,"v":2.76},
{"r":21,"c":0,"v":1.69},{"r":21,"c":1,"v":1.80},{"r":21,"c":2,"v":1.90},{"r":21,"c":3,"v":2.00},{"r":21,"c":4,"v":2.09},{"r":21,"c":5,"v":2.16},{"r":21,"c":6,"v":2.24},{"r":21,"c":7,"v":2.30},{"r":21,"c":8,"v":2.36},{"r":21,"c":9,"v":2.37},{"r":21,"c":10,"v":2.38},{"r":21,"c":11,"v":2.38},{"r":21,"c":12,"v":2.43},{"r":21,"c":13,"v":2.49},{"r":21,"c":14,"v":2.53},{"r":21,"c":15,"v":2.59},{"r":21,"c":16,"v":2.62},{"r":21,"c":17,"v":2.65},{"r":21,"c":18,"v":2.68},{"r":21,"c":19,"v":2.69},{"r":21,"c":20,"v":2.74},{"r":21,"c":21,"v":2.80},{"r":21,"c":22,"v":2.83},
{"r":22,"c":0,"v":1.62},{"r":22,"c":1,"v":1.69},{"r":22,"c":2,"v":1.77},{"r":22,"c":3,"v":1.84},{"r":22,"c":4,"v":1.91},{"r":22,"c":5,"v":1.99},{"r":22,"c":6,"v":2.06},{"r":22,"c":7,"v":2.13},{"r":22,"c":8,"v":2.21},{"r":22,"c":9,"v":2.24},{"r":22,"c":10,"v":2.25},{"r":22,"c":11,"v":2.28},{"r":22,"c":12,"v":2.36},{"r":22,"c":13,"v":2.43},{"r":22,"c":14,"v":2.47},{"r":22,"c":15,"v":2.52},{"r":22,"c":16,"v":2.56},{"r":22,"c":17,"v":2.60},{"r":22,"c":18,"v":2.65},{"r":22,"c":19,"v":2.68},{"r":22,"c":20,"v":2.75},{"r":22,"c":21,"v":2.83},{"r":22,"c":22,"v":2.94}
]
},
"hconcat": [
{
"data": {"name": "A"},
"width": 321,
"height": 320,
"title": {"text": "(A) Σ̂ for patient 10, day 1, beam 1", "orient": "bottom", "offset": 14},
"mark": {"type": "rect", "stroke": "white", "strokeWidth": 1.5},
"encoding": {
"x": {"field": "c", "type": "ordinal", "axis": null, "scale": {"paddingInner": 0, "paddingOuter": 0}},
"y": {"field": "r", "type": "ordinal", "axis": null, "scale": {"paddingInner": 0, "paddingOuter": 0}},
"color": {"field": "v", "type": "quantitative",
"scale": {"domain": [1.52, 1.94625, 2.3725, 2.79875, 3.225, 3.65125, 4.0775, 4.50375, 4.93], "range": ["#f7fbff", "#deebf7", "#c6dbef", "#9ecae1", "#6baed6", "#4292c6", "#2171b5", "#08519c", "#08306b"], "interpolate": "rgb"},
"legend": {"values": [1.5201, 2.37, 3.23, 4.08, 4.9299], "format": ".2f", "orient": "none", "legendX": 0, "legendY": 326, "direction": "horizontal", "gradientLength": 321, "gradientThickness": 12, "gradientStrokeColor": "black", "gradientStrokeWidth": 1, "labelFont": "Liberation Sans", "labelFontSize": 16, "labelColor": "black", "labelOffset": 7, "labelOverlap": false, "padding": 0, "title": null}}
}
},
{
"data": {"name": "B"},
"width": 321,
"height": 320,
"title": {"text": "(B) Σ̂ for patient 9, day 1, beam 2", "orient": "bottom", "offset": 14},
"mark": {"type": "rect", "stroke": "white", "strokeWidth": 1.5},
"encoding": {
"x": {"field": "c", "type": "ordinal", "axis": null, "scale": {"paddingInner": 0, "paddingOuter": 0}},
"y": {"field": "r", "type": "ordinal", "axis": null, "scale": {"paddingInner": 0, "paddingOuter": 0}},
"color": {"field": "v", "type": "quantitative",
"scale": {"domain": [1.62, 1.9875, 2.355, 2.7225, 3.09, 3.4575, 3.825, 4.1925, 4.56], "range": ["#f7fbff", "#deebf7", "#c6dbef", "#9ecae1", "#6baed6", "#4292c6", "#2171b5", "#08519c", "#08306b"], "interpolate": "rgb"},
"legend": {"values": [1.6201, 2.35, 3.09, 3.82, 4.5599], "format": ".2f", "orient": "none", "legendX": 0, "legendY": 326, "direction": "horizontal", "gradientLength": 321, "gradientThickness": 12, "gradientStrokeColor": "black", "gradientStrokeWidth": 1, "labelFont": "Liberation Sans", "labelFontSize": 16, "labelColor": "black", "labelOffset": 7, "labelOverlap": false, "padding": 0, "title": null}}
}
}
],
"resolve": {"scale": {"color": "independent"}, "legend": {"color": "independent"}},
"config": {
"view": {"stroke": null},
"title": {"font": "Liberation Serif", "fontSize": 24, "fontWeight": "normal", "color": "black", "anchor": "middle"}
}
}
